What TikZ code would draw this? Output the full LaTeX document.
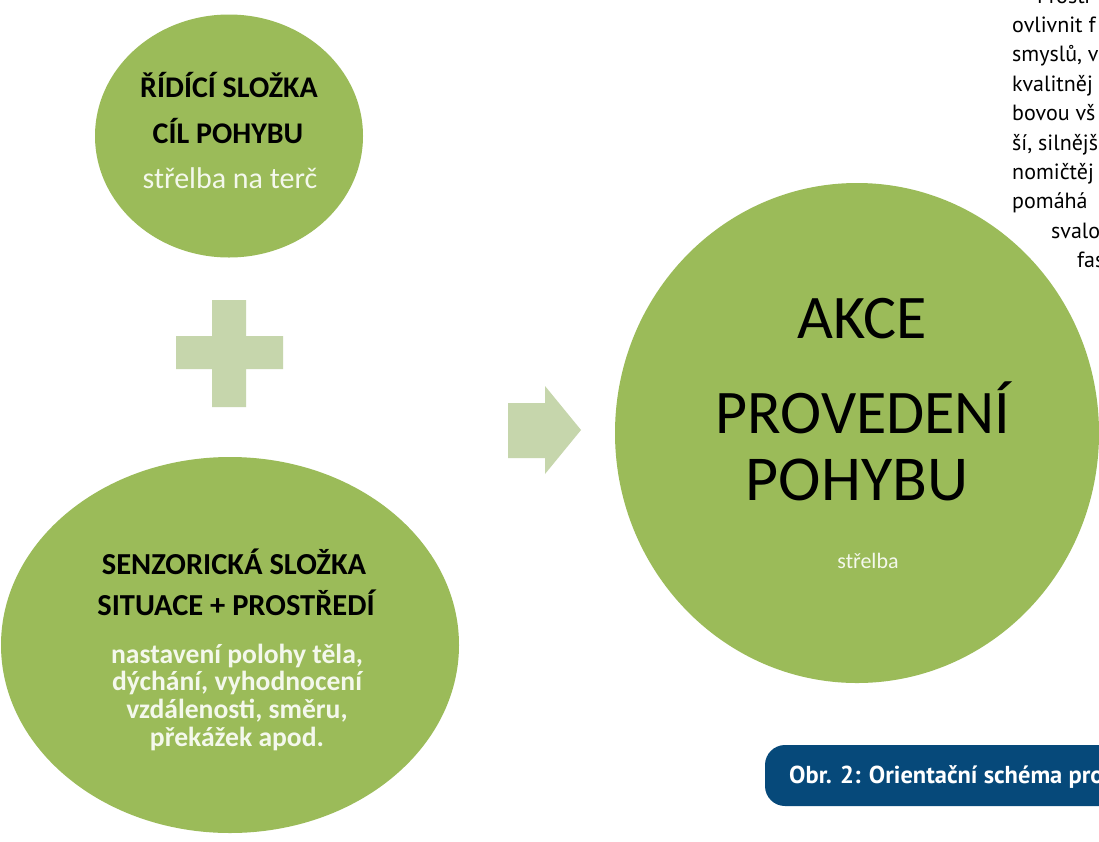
\documentclass[tikz,border=0pt]{standalone}
\usepackage{fontspec}
\setmainfont{Carlito}
\newfontfamily\ptsans{PT Sans}
\usetikzlibrary{shapes.geometric}
\definecolor{olive}{HTML}{9BBB59}
\definecolor{sage}{RGB}{198,214,172}
\definecolor{softwhite}{RGB}{244,248,236}
\definecolor{capblue}{RGB}{6,73,122}
\tikzset{
  blob/.style={ellipse, fill=olive, draw=none, inner sep=0pt},
  lab/.style={anchor=base, inner sep=0pt, text=black},
  boldlab/.style={lab, font=\fontsize{30.5}{36}\selectfont\bfseries},
  whitelab/.style={lab, text=softwhite},
  para/.style={anchor=base west, inner sep=0pt, text=black, font=\ptsans\fontsize{22}{26}\selectfont},
  shapefill/.style={fill=sage, draw=none}
}
\begin{document}
\begin{tikzpicture}[x=1pt,y=-1pt]
\clip (0,0) rectangle (1099,841);
\useasboundingbox (0,0) rectangle (1099,841);
\fill[white] (0,0) rectangle (1099,841);

% circles
\node[blob, minimum width=268pt, minimum height=243pt] (ctrl) at (229,136) {};
\node[blob, minimum width=458pt, minimum height=376pt] (sens) at (230,645) {};
\node[blob, minimum width=484pt, minimum height=500pt] (act) at (857,433) {};

% plus
\path[shapefill] (212,300) -- (246,300) -- (246,336) -- (283,336) -- (283,369) -- (246,369)
  -- (246,407) -- (212,407) -- (212,369) -- (176,369) -- (176,336) -- (212,336) -- cycle;
% arrow
\path[shapefill] (508,403) -- (545,403) -- (545,386) -- (581,430) -- (545,474) -- (545,458)
  -- (508,458) -- cycle;

% top circle text
\node[boldlab, font=\fontsize{30}{36}\selectfont\bfseries] (c1) at (229,97) {ŘÍDÍCÍ SLOŽKA};
\node[boldlab, font=\fontsize{30}{36}\selectfont\bfseries] (c2) at (228,143) {CÍL POHYBU};
\node[whitelab, font=\fontsize{30}{36}\selectfont] (c3) at (230,188) {střelba na terč};

% bottom circle text
\node[boldlab] (s1) at (234,574) {SENZORICKÁ SLOŽKA};
\node[boldlab] (s2) at (236,615) {SITUACE + PROSTŘEDÍ};
\tikzset{wb/.style={whitelab, font=\fontsize{27.6}{32}\selectfont\bfseries}}
\node[wb] (s3) at (237,663) {nastavení polohy těla,};
\node[wb] (s4) at (237,690) {dýchání, vyhodnocení};
\node[wb] (s5) at (237,718) {vzdálenosti, směru,};
\node[wb] (s6) at (237,746) {překážek apod.};

% big circle text
\tikzset{big/.style={lab, font=\fontsize{62}{72}\selectfont}}
\node[big] (a1) at (862,338) {AKCE};
\node[big] (a2) at (863,433) {PROVEDENÍ};
\node[big, font=\fontsize{64}{72}\selectfont] (a3) at (857,500) {POHYBU};
\node[whitelab, font=\fontsize{22}{26}\selectfont] (a4) at (868,568) {střelba};

% paragraph fragments on the right (cut by the page edge, as in the source)
\node[para] (p0) at (1037,3) {Prostř};
\node[para] (p1) at (1012,32) {ovlivnit f};
\node[para] (p2) at (1012,61) {smyslů, v};
\node[para] (p3) at (1012,91) {kvalitněj};
\node[para] (p4) at (1012,120) {bovou vš};
\node[para] (p5) at (1012,150) {ší, silnějš};
\node[para] (p6) at (1012,179) {nomičtěj};
\node[para] (p7) at (1012,208) {pomáhá};
\node[para] (p8) at (1051,238) {svalo};
\node[para] (p9) at (1077,267) {fas};

% caption
\fill[capblue, rounded corners=20pt] (765,745) rectangle (1140,806);
\node[anchor=base west, inner sep=0pt, text=white, font=\ptsans\bfseries\fontsize{24.5}{28}\selectfont] (cap) at (789,783) {Obr. 2: Orientační schéma pro};
\end{tikzpicture}
\end{document}
